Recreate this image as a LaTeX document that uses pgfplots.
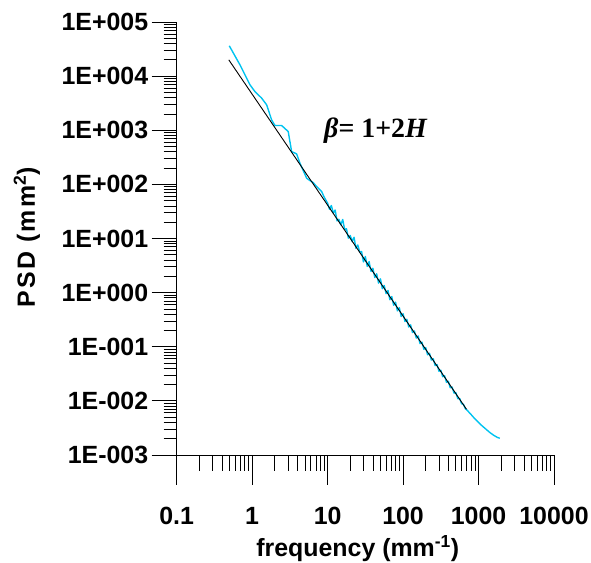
\documentclass[border=0pt]{standalone}
\usepackage{fontspec}
\setmainfont{Liberation Sans}
\newfontfamily\serifb{Liberation Serif}
\newfontfamily\spacedsans[LetterSpace=9]{Liberation Sans}
\usepackage{pgfplots}
\usepackage{pgfplotstable}
\pgfplotsset{compat=1.18}
\definecolor{psdcyan}{RGB}{0,195,240}

\pgfplotstableread{
x y
0.4977 36300
0.689 16180
0.935 6902
1.089 5188
1.337 3917
1.556 2944
1.811 1556
2.004 1222
2.460 1222
3.006 946
3.334 404
3.882 366
4.295 247
5.272 130
5.834 117.5
6.442 107.9
7.145 91.0
8.337 73.6
8.933 59.4
10.000 44.87
10.593 34.74
11.220 40.69
11.885 29.39
12.589 33.63
13.335 21.16
14.125 22.60
14.962 17.90
15.849 22.46
16.788 14.80
17.783 15.09
18.836 10.17
19.953 11.38
21.135 8.809
22.387 10.55
23.714 6.640
25.119 7.602
26.607 5.617
28.184 5.731
29.854 3.690
31.623 4.631
33.497 3.051
35.481 3.741
37.584 2.464
39.811 2.820
42.170 1.901
44.668 2.227
47.315 1.501
50.119 1.798
53.088 1.185
56.234 1.356
59.566 0.957
63.096 1.0955
66.834 0.7387
70.795 0.8452
74.989 0.5831
79.433 0.6674
84.140 0.4604
89.125 0.5270
94.406 0.3635
100.00 0.4065
105.93 0.2936
112.20 0.3209
118.85 0.2316
125.89 0.2534
133.35 0.1831
141.25 0.1955
149.62 0.1445
158.49 0.1579
167.88 0.1141
177.83 0.1219
188.36 0.09004
199.53 0.09622
211.35 0.07110
223.87 0.07596
237.14 0.05678
251.19 0.05997
266.07 0.04484
281.84 0.04680
298.54 0.03539
316.23 0.03694
334.97 0.02794
354.81 0.02916
375.84 0.02206
398.11 0.02304
421.70 0.01742
446.68 0.01797
473.15 0.01391
501.19 0.01419
530.88 0.01098
562.34 0.01108
595.66 0.008873
630.96 0.008643
668.34 0.007167
707.95 0.006683
794.3 0.005623
891.3 0.004679
1000 0.003981
1122 0.003429
1259 0.002985
1413 0.002601
1585 0.002318
1778 0.002114
1914 0.002038
}\psddata

\pgfplotstableread{
x y
0.49 20000
692 0.0070
}\fitdata

\begin{document}
\begin{tikzpicture}
\begin{axis}[
  at={(176.7bp,108bp)}, anchor=south west,
  scale only axis, width=377.3bp, height=433bp,
  xmode=log, ymode=log,
  xmin=0.1, xmax=10000, ymin=1e-3, ymax=1e5,
  axis x line=bottom, axis y line=none,
  tick align=outside,
  tick style={black, line width=0.8bp},
  ticklabel style={font=\fontsize{25}{29}\selectfont\bfseries},
  xticklabel style={yshift=-19bp},
  axis line style={black, line width=0.8bp, -},
  clip=false,
  major tick length=30bp, minor tick length=16bp,
  xtick={0.1,1,10,100,1000,10000},
  xticklabels={0.1,1,10,100,1000,10000},
  minor xtick={0.2,0.3,0.4,0.5,0.6,0.7,0.8,0.9,2,3,4,5,6,7,8,9,20,30,40,50,60,70,80,90,200,300,400,500,600,700,800,900,2000,3000,4000,5000,6000,7000,8000,9000},
  ytick=\empty,
]
\addplot[psdcyan, line width=1.4bp, line join=round] table[x=x,y=y] {\psddata};
\addplot[black, line width=0.9bp] table[x=x,y=y] {\fitdata};
\node[anchor=base, font=\serifb\bfseries\fontsize{28}{31}\selectfont] at (axis description cs:0.528,0.734) {\textit{β}= 1+2\textit{H}};
\node[anchor=center, font=\bfseries\fontsize{25}{29}\selectfont] at (axis description cs:0.48,-0.215) {frequency (mm\textsuperscript{-1})};
\node[anchor=center, rotate=90, font=\spacedsans\bfseries\fontsize{25}{29}\selectfont] at (axis description cs:-0.397,0.503) {PSD (mm\textsuperscript{2})};
\end{axis}
\begin{axis}[
  at={(176.7bp,108bp)}, anchor=south west,
  scale only axis, width=377.3bp, height=433bp,
  xmode=log, ymode=log,
  xmin=0.1, xmax=10000, ymin=1e-3, ymax=1e5,
  axis y line=left, axis x line=none,
  tick align=outside,
  tick style={black, line width=0.8bp},
  ticklabel style={font=\fontsize{25}{29}\selectfont\bfseries},
  axis line style={black, line width=0.8bp, -},
  clip=false,
  major tick length=25bp, minor tick length=13bp,
  xtick=\empty,
  ytick={1e-3,1e-2,1e-1,1,10,100,1000,10000,100000},
  yticklabels={1E-003,1E-002,1E-001,1E+000,1E+001,1E+002,1E+003,1E+004,1E+005},
  minor ytick={0.002,0.003,0.004,0.005,0.006,0.007,0.008,0.009,0.02,0.03,0.04,0.05,0.06,0.07,0.08,0.09,0.2,0.3,0.4,0.5,0.6,0.7,0.8,0.9,2,3,4,5,6,7,8,9,20,30,40,50,60,70,80,90,200,300,400,500,600,700,800,900,2000,3000,4000,5000,6000,7000,8000,9000,20000,30000,40000,50000,60000,70000,80000,90000},
]
\end{axis}
\pgfresetboundingbox
\useasboundingbox (0,0) rectangle (591bp,563bp);
\end{tikzpicture}
\end{document}
